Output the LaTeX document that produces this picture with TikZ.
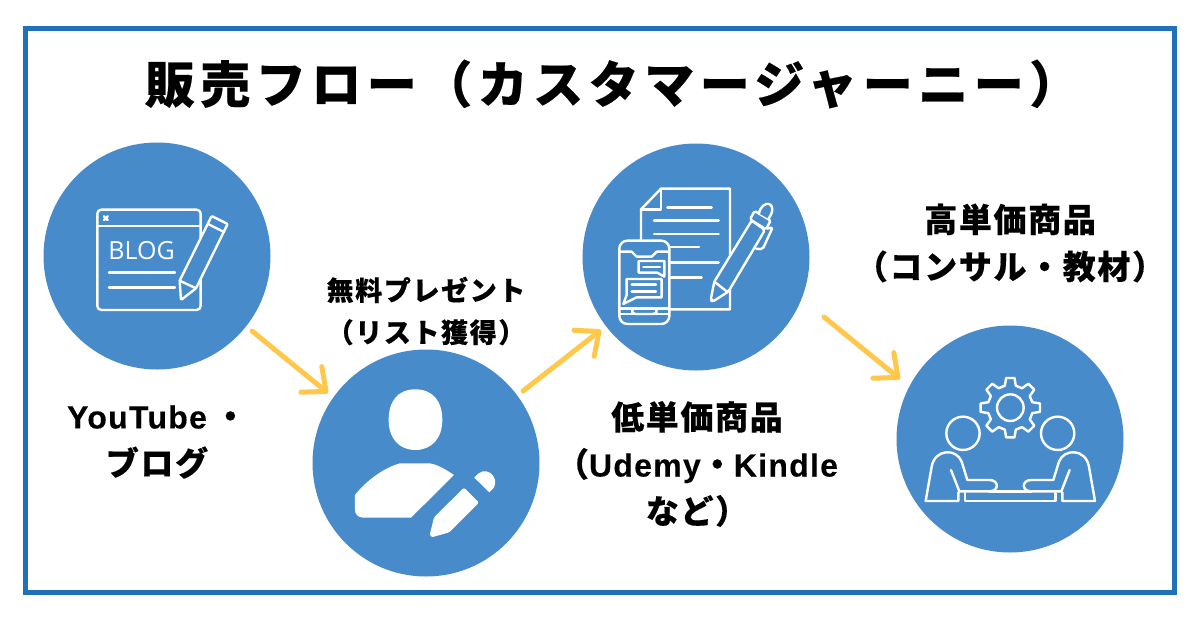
\documentclass[tikz,border=0pt]{standalone}
\usepackage{fontspec}
\usetikzlibrary{arrows.meta}
\setmainfont{Noto Sans CJK JP}
\newfontfamily\blogFont{Open Sans}
\newfontfamily\latinFont{Liberation Sans}
\definecolor{frameColor}{RGB}{31,113,186}
\definecolor{circleColor}{RGB}{71,139,203}
\definecolor{arrowColor}{RGB}{255,200,74}
\tikzstyle{flow} = [x = 1pt, y = -1pt]
\tikzstyle{circleStyle} = [circle, fill=circleColor, minimum size=227pt, inner sep=0pt]
\tikzstyle{flowArrow} = [color=arrowColor, line width=5pt, line cap=round, -{Straight Barb[length=19pt, width=33pt, round]}]
\tikzstyle{iconLine} = [color=white, line width=2.4pt, line cap=round, line join=round]
\tikzstyle{iconCover} = [iconLine, fill=circleColor]
\tikzstyle{iconFill} = [fill=white]
\tikzstyle{titleText} = [font=\fontsize{50}{56}\selectfont\bfseries\addfontfeature{LetterSpace=11,FakeBold=0.4}]
\tikzstyle{labelText} = [align=center, font=\fontsize{33}{47}\selectfont\bfseries\addfontfeature{LetterSpace=5,FakeBold=0.3}]
\tikzstyle{smallText} = [align=center, font=\fontsize{27}{42}\selectfont\bfseries\addfontfeature{LetterSpace=6,FakeBold=0.3}]
\tikzstyle{zoomed} = [x = .3333pt, y = -.3333pt]
\newcommand{\latinText}[1]{{\latinFont\bfseries\fontsize{32}{47}\selectfont\addfontfeature{LetterSpace=4,FakeBold=0.2}#1}}
\begin{document}
\begin{tikzpicture}[flow]
  \useasboundingbox (0,0) rectangle (1200,630);
  \fill [white] (0,0) rectangle (1200,630);
  \draw [frameColor, line width=4.4pt] (25.3,28.3) rectangle (1174.5,592.5);

  \node [titleText] (title) at (612,84) {販売フロー（カスタマージャーニー）};

  \node [circleStyle] (blogCircle) at (157,256) {};
  \node [circleStyle] (listCircle) at (426,463) {};
  \node [circleStyle] (lowCircle) at (696,257) {};
  \node [circleStyle] (highCircle) at (1010,439) {};

  \node [labelText] (blogLabel) at (157,442) {\latinText{YouTube}\hspace{7pt}・\\ブログ};
  \node [smallText] (listLabel) at (426,311) {無料プレゼント\\（リスト獲得）};
  \node [labelText] (lowLabel) at (697,464) {低単価商品\\（\latinText{Udemy}・\latinText{Kindle}\\など）};
  \node [labelText] (highLabel) at (1010,243) {高単価商品\\（コンサル・教材）};

  \coordinate (blogOut) at (252,331);
  \coordinate (listIn) at (328,393);
  \coordinate (listOut) at (523,391);
  \coordinate (lowIn) at (601,330);
  \coordinate (lowOut) at (824,317);
  \coordinate (highIn) at (900,379);
  \draw [flowArrow] (blogOut) -- (listIn);
  \draw [flowArrow] (listOut) -- (lowIn);
  \draw [flowArrow] (lowOut) -- (highIn);

  % blog window and pencil
  \begin{scope}[shift={(40,150)}, zoomed]
    \draw [iconLine, rounded corners=4pt] (172,179) rectangle (482,480);
    \draw [iconLine] (172,228) -- (482,228);
    \draw [iconLine] (192,199) -- (203,210) (203,199) -- (192,210);
    \node [color=white, font=\fontsize{25}{25}\selectfont\blogFont] (blogWord) at (305,301) {BLOG};
    \draw [iconLine] (207,367) -- (405,367);
    \draw [iconLine] (207,412) -- (405,412);
    \draw [iconCover, rounded corners=1pt] (419,392) -- (515,198) -- (563,222) -- (468,415) -- (423,450) -- cycle;
    \draw [iconLine] (419,392) -- (468,415);
    \draw [iconLine] (504,222) -- (552,246);
  \end{scope}

  % person with pencil
  \begin{scope}[shift={(310,360)}, zoomed]
    \fill [iconFill] (316,88) .. controls (370,88) and (397,125) .. (397,180) .. controls (397,235) and (365,270) .. (316,270) .. controls (267,270) and (236,235) .. (236,180) .. controls (236,125) and (262,88) .. (316,88) -- cycle;
    \fill [iconFill] (135,405) .. controls (170,360) and (225,322) .. (270,310) -- (360,310) .. controls (385,315) and (410,330) .. (432,345) -- (303,473) -- (160,473) .. controls (145,473) and (135,463) .. (135,450) -- cycle;
    \fill [iconFill, rounded corners=1.5pt] (462,383) -- (507,428) -- (418,517) -- (365,532) -- (359,526) -- (372,472) -- cycle;
    \fill [iconFill] (493,353) -- (505,341) .. controls (520,328) and (540,333) .. (550,348) .. controls (560,362) and (555,378) .. (550,385) -- (538,397) -- cycle;
  \end{scope}

  % document with phone and pen
  \begin{scope}[shift={(580,150)}, zoomed]
    \draw [iconLine] (183,272) -- (183,178) -- (243,116) -- (450,116) -- (450,478) -- (270,478);
    \draw [iconLine] (183,178) -- (243,178) -- (243,116);
    \draw [iconLine] (262,173) -- (395,173);
    \draw [iconLine] (222,212) -- (416,212);
    \draw [iconLine] (222,252) -- (416,252);
    \draw [iconLine] (270,291) -- (357,291);
    \draw [iconLine] (270,337) -- (416,337);
    \draw [iconLine] (270,383) -- (365,383);
    \draw [iconCover, rounded corners=2pt] (403,395) -- (392,450) -- (398,455) -- (445,425) -- (555,240) -- (515,212) -- cycle;
    \draw [iconLine] (403,395) -- (441,425);
    \draw [iconCover, rounded corners=2pt] (562,236) -- (578,232) -- (548,298) -- (528,296);
    \draw [iconCover, rounded corners=1.5pt] (510,208) -- (524,183) -- (572,212) -- (558,238) -- cycle;
    \draw [iconCover] (537,191) .. controls (545,145) and (600,155) .. (566,206);
    \draw [iconCover, rounded corners=8pt] (118,272) rectangle (268,522);
    \draw [iconLine] (120,305) -- (155,305) -- (170,320) -- (215,320) -- (230,305) -- (266,305);
    \draw [iconLine] (120,476) -- (266,476);
    \draw [iconLine] (120,492) -- (266,492);
    \draw [iconLine, rounded corners=2pt] (160,476) -- (153,484) -- (160,492) -- (226,492) -- (233,484) -- (226,476);
    \draw [iconLine] (176,333) -- (253,333) -- (253,380) -- (232,368) -- (176,368) -- cycle;
    \draw [iconLine] (190,351) -- (240,351);
    \draw [iconLine] (140,387) -- (245,387) -- (245,442) -- (170,442) -- (130,462) -- (140,435) -- cycle;
    \draw [iconLine] (155,403) -- (228,403);
    \draw [iconLine] (155,425) -- (228,425);
  \end{scope}

  % two people and gear
  \begin{scope}[shift={(890,330)}, zoomed]
    \draw [iconLine] (361,233) circle [radius=40];
    \begin{scope}[shift={(361,233)}]
      \draw [iconLine] (-14:68) \foreach \angle in {0,45,...,315} {
        -- (\angle-14:68) -- (\angle-8:90) -- (\angle+8:90) -- (\angle+14:68)
      } -- cycle;
    \end{scope}
    \draw [iconLine] (219,310) circle [radius=50];
    \draw [iconLine] (503,310) circle [radius=50];
    \draw [iconLine] (183,420) -- (208,484) -- (298,484) .. controls (328,484) and (328,450) .. (298,450) -- (232,450) -- (215,395) .. controls (200,355) and (135,355) .. (125,410) -- (107,513) -- (205,513) -- (205,487);
    \draw [iconLine] (539,420) -- (514,484) -- (424,484) .. controls (394,484) and (394,450) .. (424,450) -- (490,450) -- (507,395) .. controls (522,355) and (587,355) .. (597,410) -- (615,513) -- (517,513) -- (517,487);
    \draw [iconLine] (298,484) -- (424,484);
    \draw [iconLine] (225,490) -- (225,513) -- (497,513) -- (497,490);
  \end{scope}
\end{tikzpicture}
\end{document}
